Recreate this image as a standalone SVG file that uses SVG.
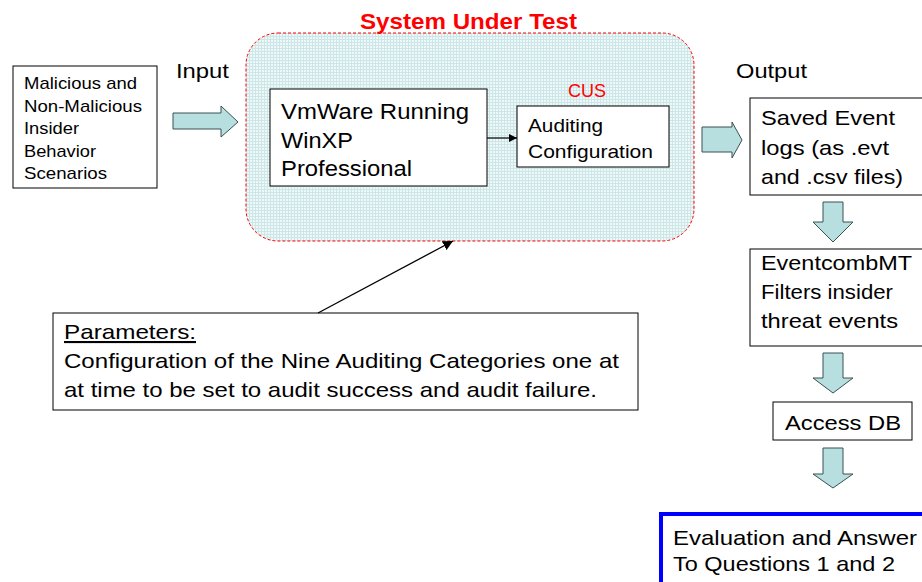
<svg xmlns="http://www.w3.org/2000/svg" width="922" height="582" viewBox="0 0 922 582">
<style>
text{font-family:"Liberation Sans",Arial,sans-serif;fill:#000}
.box{fill:#fff;stroke:#000;stroke-width:1}
.fat{fill:#b7dfe0;stroke:#3a5050;stroke-width:1}
.t17{font-size:17px}
.t21{font-size:21px}
.t22{font-size:22px}
.t19{font-size:19px}
.red{fill:#ff0000}
</style>
<defs>
<pattern id="grid" width="3" height="3" patternUnits="userSpaceOnUse">
<rect width="3" height="3" fill="#eef8f8"/>
<path d="M0 0.5H3M0.5 0V3" stroke="#cde6e8" stroke-width="1"/>
</pattern>
<marker id="ah" viewBox="0 0 10 10" refX="10" refY="5" markerWidth="8" markerHeight="8" markerUnits="userSpaceOnUse" orient="auto">
<path d="M0 0L10 5L0 10z" fill="#000"/>
</marker>
<marker id="ah2" viewBox="0 0 10 10" refX="10" refY="5" markerWidth="10" markerHeight="10" markerUnits="userSpaceOnUse" orient="auto">
<path d="M0 0L10 5L0 10z" fill="#000"/>
</marker>
</defs>
<rect width="922" height="582" fill="#fff"/>

<g id="sut">
<rect x="246" y="33" width="448" height="208" rx="32" fill="url(#grid)" stroke="#ff0000" stroke-width="1" stroke-dasharray="3,2"/>
<text x="360" y="29" class="t22 red" font-weight="bold" textLength="217" lengthAdjust="spacingAndGlyphs">System Under Test</text>
</g>

<g id="scenarios">
<rect x="13" y="66" width="144" height="122" class="box"/>
<text class="t17" x="24" y="89" textLength="113" lengthAdjust="spacingAndGlyphs">Malicious and</text>
<text class="t17" x="24" y="112" textLength="118" lengthAdjust="spacingAndGlyphs">Non-Malicious</text>
<text class="t17" x="24" y="134" textLength="55" lengthAdjust="spacingAndGlyphs">Insider</text>
<text class="t17" x="24" y="157" textLength="72" lengthAdjust="spacingAndGlyphs">Behavior</text>
<text class="t17" x="24" y="179" textLength="83" lengthAdjust="spacingAndGlyphs">Scenarios</text>
</g>

<g id="input-label"><text class="t21" x="176" y="78" textLength="53" lengthAdjust="spacingAndGlyphs">Input</text></g>
<g id="output-label"><text class="t21" x="736" y="78" textLength="71" lengthAdjust="spacingAndGlyphs">Output</text></g>

<g id="vmware">
<rect x="270" y="89" width="217" height="97" class="box"/>
<text class="t22" x="281" y="119" textLength="188" lengthAdjust="spacingAndGlyphs">VmWare Running</text>
<text class="t22" x="281" y="148" textLength="72" lengthAdjust="spacingAndGlyphs">WinXP</text>
<text class="t22" x="281" y="176" textLength="131" lengthAdjust="spacingAndGlyphs">Professional</text>
</g>

<g id="auditing">
<text x="568" y="97" class="t19 red" textLength="38" lengthAdjust="spacingAndGlyphs">CUS</text>
<rect x="517" y="106" width="152" height="61" class="box"/>
<text class="t19" x="528" y="132" textLength="75" lengthAdjust="spacingAndGlyphs">Auditing</text>
<text class="t19" x="528" y="158" textLength="125" lengthAdjust="spacingAndGlyphs">Configuration</text>
</g>

<g id="saved">
<rect x="750" y="98" width="180" height="97" class="box"/>
<text class="t21" x="761" y="125" textLength="134" lengthAdjust="spacingAndGlyphs">Saved Event</text>
<text class="t21" x="761" y="155" textLength="128" lengthAdjust="spacingAndGlyphs">logs (as .evt</text>
<text class="t21" x="761" y="184" textLength="142" lengthAdjust="spacingAndGlyphs">and .csv files)</text>
</g>

<g id="eventcomb">
<rect x="750" y="249" width="180" height="97" class="box"/>
<text class="t21" x="761" y="270" textLength="151" lengthAdjust="spacingAndGlyphs">EventcombMT</text>
<text class="t21" x="761" y="299" textLength="132" lengthAdjust="spacingAndGlyphs">Filters insider</text>
<text class="t21" x="761" y="328" textLength="137" lengthAdjust="spacingAndGlyphs">threat events</text>
</g>

<g id="access">
<rect x="773" y="402" width="139" height="38" class="box"/>
<text class="t21" x="785" y="430" textLength="116" lengthAdjust="spacingAndGlyphs">Access DB</text>
</g>

<g id="evaluation">
<rect x="661" y="514" width="270" height="80" fill="#fff" stroke="#0000ff" stroke-width="4"/>
<text class="t21" x="673" y="545" textLength="244" lengthAdjust="spacingAndGlyphs">Evaluation and Answer</text>
<text class="t21" x="673" y="571" textLength="222" lengthAdjust="spacingAndGlyphs">To Questions 1 and 2</text>
</g>

<g id="parameters">
<rect x="53" y="313" width="585" height="97" class="box"/>
<text class="t21" x="64" y="339" text-decoration="underline" textLength="132" lengthAdjust="spacingAndGlyphs">Parameters:</text>
<text class="t21" x="64" y="368" textLength="555" lengthAdjust="spacingAndGlyphs">Configuration of the Nine Auditing Categories one at</text>
<text class="t21" x="64" y="397" textLength="533" lengthAdjust="spacingAndGlyphs">at time to be set to audit success and audit failure.</text>
</g>

<g id="connectors">
<path class="fat" d="M173 113H221V106L238 122L221 137V129H173Z"/>
<path class="fat" d="M702 127H732V122L742 140L732 158V152H702Z"/>
<path class="fat" d="M823 202H843V222H853L833 242L813 222H823Z"/>
<path class="fat" d="M823 353H843V378H853L833 393L813 378H823Z"/>
<path class="fat" d="M823 448H843V474H853L833 488L813 474H823Z"/>
<line x1="487" y1="138" x2="517" y2="138" stroke="#000" stroke-width="1.2" marker-end="url(#ah)"/>
<line x1="318" y1="313" x2="453" y2="241" stroke="#000" stroke-width="1.3" marker-end="url(#ah2)"/>
</g>
</svg>
